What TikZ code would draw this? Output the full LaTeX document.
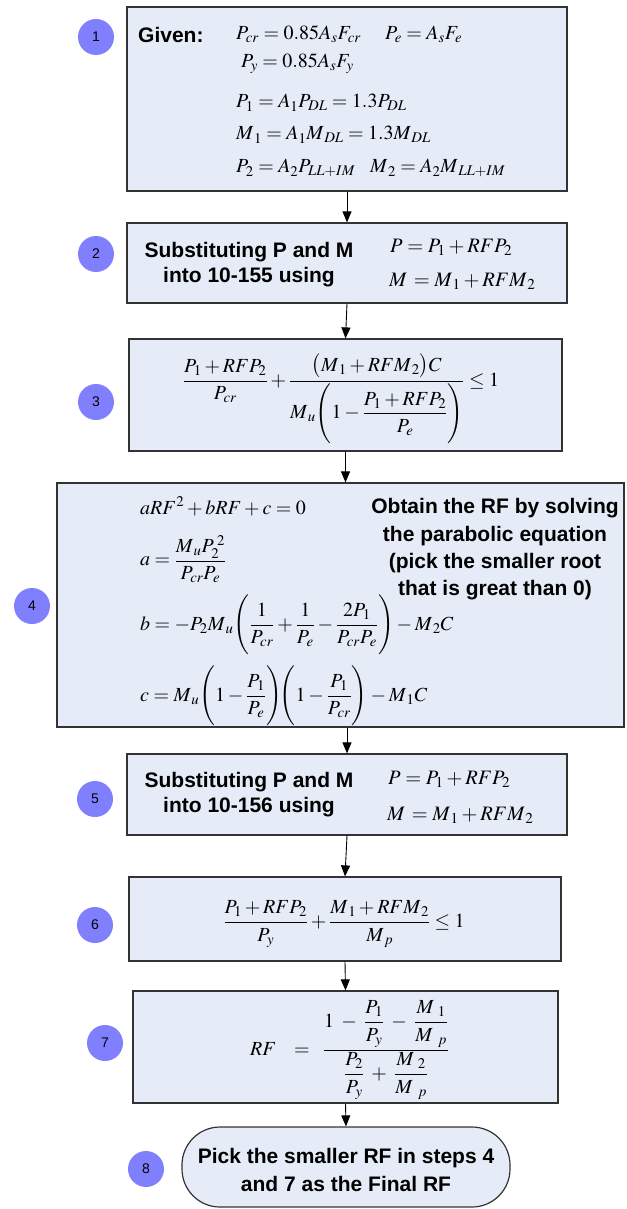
\documentclass[tikz,border=0pt]{standalone}
\usepackage{amsmath}
\usepackage{mathptmx}
\usepackage[no-math]{fontspec}
\setsansfont{Liberation Sans}
\usetikzlibrary{arrows.meta}
\definecolor{boxfill}{RGB}{230,236,247}
\definecolor{numfill}{RGB}{128,128,255}
\definecolor{boxline}{RGB}{51,51,51}
\begin{document}
\begin{tikzpicture}[x=1pt,y=-1pt,
  box/.style={draw=boxline, line width=1.2pt, fill=boxfill, rectangle, inner sep=0pt},
  num/.style={circle, fill=numfill, minimum size=36pt, inner sep=0pt, font=\sffamily\fontsize{14}{14}\selectfont},
  lbl/.style={font=\sffamily\bfseries\fontsize{21}{25}\selectfont, inner sep=0pt, anchor=base},
  eq/.style={font=\fontsize{20}{24}\selectfont, inner sep=0pt},
  eqb/.style={eq, anchor=base west},
  eqL/.style={font=\fontsize{20.5}{24}\selectfont, inner sep=0pt, anchor=base west},
  arr/.style={-{Triangle[length=11pt,width=9pt]}, line width=0.9pt, draw=black}]
\useasboundingbox (0,0) rectangle (626,1209);

% boxes
\node[box, minimum width=440pt, minimum height=184pt] (b1) at (347,99) {};
\node[box, minimum width=440pt, minimum height=80pt] (b2) at (347,263) {};
\node[box, minimum width=433pt, minimum height=112pt] (b3) at (345.5,395) {};
\node[box, minimum width=567pt, minimum height=244pt] (b4) at (340.5,605) {};
\node[box, minimum width=440pt, minimum height=81pt] (b5) at (347,794.5) {};
\node[box, minimum width=432pt, minimum height=84pt] (b6) at (345,919) {};
\node[box, minimum width=425pt, minimum height=112pt] (b7) at (345.5,1047) {};
\node[box, rounded corners=38pt, minimum width=328pt, minimum height=80pt] (b8) at (346,1167) {};

% arrows
\draw[arr] (b1.south) -- (b2.north);
\draw[arr] (b2.south) -- (b3.north);
\draw[arr] (b3.south) -- (b3.south |- b4.north);
\draw[arr] (b5.north |- b4.south) -- (b5.north);
\draw[arr] (b5.south) -- (b6.north);
\draw[arr] (b6.south) -- (b7.north);
\draw[arr] (b7.south) -- (b8.north);

% step numbers
\node[num] (n1) at (96,37) {1};
\node[num] (n2) at (96,254) {2};
\node[num] (n3) at (96,402) {3};
\node[num] (n4) at (32,606) {4};
\node[num] (n5) at (95,799) {5};
\node[num] (n6) at (95,925) {6};
\node[num] (n7) at (105,1043) {7};
\node[num] (n8) at (146,1169) {8};

% box 1
\node[lbl, anchor=base west] (g1) at (138,43) {Given:};
\node[eqb] (e11) at (236,40) {$P_{cr} = 0.85A_sF_{cr}$};
\node[eqb] (e12) at (385,40) {$P_e = A_sF_e$};
\node[eqb] (e13) at (241,68) {$P_y = 0.85A_sF_y$};
\node[eqb] (e14) at (236,108) {$P_1 = A_1P_{DL} = 1.3P_{DL}$};
\node[eqb] (e15) at (236,140) {$M_{\,1} = A_1M_{\,DL} = 1.3M_{\,DL}$};
\node[eqb] (e16) at (236,173) {$P_2 = A_2P_{LL+IM}$};
\node[eqb] (e17) at (370,173) {$M_{\,2} = A_2M_{\,LL+IM}$};

% box 2
\node[lbl] (t21) at (249,257) {Substituting P and M};
\node[lbl] (t22) at (249,282) {into 10-155 using};
\node[eqL] (e21) at (390,252) {$P = P_1 + RFP_2$};
\node[eqL] (e22) at (389,286) {$M\, = M_{\,1} + RFM_{\,2}$};

% box 3
\node[eq] (e3) at (341,399) {$\displaystyle \frac{P_1+RFP_2}{P_{cr}} + \frac{\bigl(M_{\,1}+RFM_{\,2}\bigr)C}{M_{\,u}\Biggl(1-\dfrac{P_1+RFP_2}{P_e}\Biggr)} \le 1$};

% box 4
\node[eqb] (e41) at (140,514) {$aRF^2 + bRF + c = 0$};
\node[eq, anchor=west] (e42) at (140,559) {$\displaystyle a = \frac{M_{\,u}P_2^{\;2}}{P_{cr}P_e}$};
\node[eq, anchor=west] (e43) at (140,625) {$\displaystyle b = -P_2M_{\,u}\Biggl(\frac{1}{P_{cr}}+\frac{1}{P_e}-\frac{2P_1}{P_{cr}P_e}\Biggr) - M_{\,2}C$};
\node[eq, anchor=west] (e44) at (140,696) {$\displaystyle c = M_{\,u}\Biggl(1-\frac{P_1}{P_e}\Biggr)\!\Biggl(1-\frac{P_1}{P_{cr}}\Biggr) - M_{\,1}C$};
\node[lbl] (t41) at (495,513) {Obtain the RF by solving};
\node[lbl] (t42) at (495,541) {the parabolic equation};
\node[lbl] (t43) at (495,568) {(pick the smaller root};
\node[lbl] (t44) at (495,595) {that is great than 0)};

% box 5
\node[lbl] (t51) at (249,787) {Substituting P and M};
\node[lbl] (t52) at (249,812) {into 10-156 using};
\node[eqL] (e51) at (388,784) {$P = P_1 + RFP_2$};
\node[eqL] (e52) at (387,820) {$M\, = M_{\,1} + RFM_{\,2}$};

% box 6
\node[eq] (e6) at (344,924) {$\displaystyle \frac{P_1+RFP_2}{P_y} + \frac{M_{\,1}+RFM_{\,2}}{M_{\,p}} \le 1$};

% box 7
\node[eq, anchor=west] (e7) at (250,1050) {$RF \;\;\;=\;\; \dfrac{1\;-\;\dfrac{P_1}{P_y}\;-\;\dfrac{M_{\;\,1}}{M_{\;\;p}}}{\dfrac{P_2}{P_y}\;+\;\dfrac{M_{\;\,2}}{M_{\;\;p}}}$};

% box 8
\node[lbl] (t81) at (346,1163) {Pick the smaller RF in steps 4};
\node[lbl] (t82) at (346,1191) {and 7 as the Final RF};
\end{tikzpicture}
\end{document}
